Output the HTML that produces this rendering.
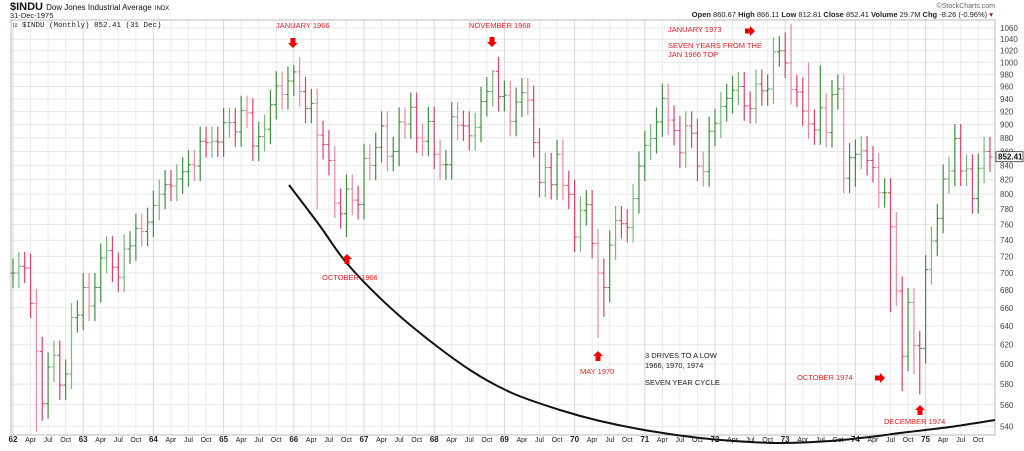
<!DOCTYPE html><html><head><meta charset="utf-8"><style>
body{margin:0;background:#fff;width:1024px;height:446px;overflow:hidden;font-family:"Liberation Sans",sans-serif}
</style></head><body>
<svg id="s" width="1024" height="446" xmlns="http://www.w3.org/2000/svg" font-family="Liberation Sans, sans-serif"></svg>
<script>
var C=[700,708,706,665,613,561,597,609,579,590,649,652,
683,662,683,718,727,707,695,729,733,755,751,763,
785,800,813,811,821,831,841,839,875,873,875,874,
903,903,889,922,918,868,882,893,931,961,947,969,
984,952,925,933,884,870,847,788,774,807,792,786,
850,840,866,898,853,860,904,901,927,880,875,905,
856,841,841,912,899,898,883,896,936,952,985,944,
946,905,935,950,938,873,816,837,813,856,812,800,
744,778,786,736,700,683,734,765,761,756,794,839,
869,879,904,941,907,891,858,898,887,839,831,890,
902,928,941,954,960,929,925,964,953,956,1018,1020,
999,955,951,921,901,892,926,888,947,956,822,851,
856,861,847,837,802,802,757,679,608,666,619,616,
704,739,768,821,832,879,832,835,794,836,860,852];
var LO={4:535,5:545,52:780,57:744,100:627,101:650,152:573,154:590,155:570,144:810,150:655},HI={48:995,82:987,133:1067,132:1052,136:1000,138:995};
function Y(v){return 28+590.5*Math.log(1060/v);}
function X(i){return 13+5.85*i;}
var h='';
for(var v=540;v<=1060;v+=20){var y=Y(v);h+='<line x1="11" x2="995" y1="'+y+'" y2="'+y+'" stroke="#e8e8e8"/>';h+='<text x="1000" y="'+(y+3)+'" font-size="8" fill="#444">'+v+'</text>';}
var ml=['Apr','Jul','Oct'];
for(var yr=0;yr<14;yr++){for(var q=0;q<4;q++){var x=X(yr*12+q*3);h+='<line x1="'+x+'" x2="'+x+'" y1="20" y2="435" stroke="'+(q?'#ececec':'#d8d8d8')+'"/>';
var t=q?ml[q-1]:(''+(62+yr));h+='<text x="'+x+'" y="442" font-size="'+(q?7:8)+'" text-anchor="middle" fill="#222" font-weight="'+(q?'normal':'bold')+'">'+t+'</text>';}}
h+='<rect x="11" y="20" width="984" height="415" fill="none" stroke="#bbb"/>';
var prev=C[0];
for(var i=0;i<C.length;i++){var o=prev,c=C[i];var hi=HI[i]||Math.max(o,c)*1.025,lo=LO[i]||Math.min(o,c)*0.975;
var col=c>=o?'#3f8f3f':'#e0406a';if(i%3==1)col=c>=o?'#7cb87c':'#ee8aa4';var x=X(i);
h+='<line x1="'+x+'" x2="'+x+'" y1="'+Y(hi)+'" y2="'+Y(lo)+'" stroke="'+col+'" stroke-width="1.2"/>';
h+='<line x1="'+(x-2.5)+'" x2="'+x+'" y1="'+Y(o)+'" y2="'+Y(o)+'" stroke="'+col+'"/>';
h+='<line x1="'+x+'" x2="'+(x+2.5)+'" y1="'+Y(c)+'" y2="'+Y(c)+'" stroke="'+col+'"/>';prev=c;}
// smooth curve (Catmull-Rom)
var P=[[289,185],[320,226],[345,261],[380,298],[420,333],[470,370],[512,393],[560,410],[600,421],[650,431],[700,438],[750,442],[785,443],[830,441],[870,437],[900,433],[950,427],[995,420]];
var d='M'+P[0][0]+','+P[0][1];
for(var k=0;k<P.length-1;k++){var p0=P[k-1]||P[k],p1=P[k],p2=P[k+1],p3=P[k+2]||p2;
d+=' C'+(p1[0]+(p2[0]-p0[0])/6)+','+(p1[1]+(p2[1]-p0[1])/6)+' '+(p2[0]-(p3[0]-p1[0])/6)+','+(p2[1]-(p3[1]-p1[1])/6)+' '+p2[0]+','+p2[1];}
h+='<path d="'+d+'" fill="none" stroke="#111" stroke-width="2"/>';
function dn(x,y){return '<polygon fill="#e00" points="'+(x-2.5)+','+y+' '+(x+2.5)+','+y+' '+(x+2.5)+','+(y+5)+' '+(x+5)+','+(y+5)+' '+x+','+(y+10)+' '+(x-5)+','+(y+5)+' '+(x-2.5)+','+(y+5)+'"/>';}
function up(x,y){return '<polygon fill="#e00" points="'+(x-2.5)+','+(y+10)+' '+(x+2.5)+','+(y+10)+' '+(x+2.5)+','+(y+5)+' '+(x+5)+','+(y+5)+' '+x+','+y+' '+(x-5)+','+(y+5)+' '+(x-2.5)+','+(y+5)+'"/>';}
function rt(x,y){return '<polygon fill="#e00" points="'+x+','+(y-2.5)+' '+(x+5)+','+(y-2.5)+' '+(x+5)+','+(y-5)+' '+(x+10)+','+y+' '+(x+5)+','+(y+5)+' '+(x+5)+','+(y+2.5)+' '+x+','+(y+2.5)+'"/>';}
h+=dn(293,38)+dn(492,37)+rt(745,31)+up(347,254)+up(598,351)+rt(875,378)+up(920,405);
function tx(x,y,s,c){return '<text x="'+x+'" y="'+y+'" font-size="7.5" fill="'+(c||'#e82020')+'">'+s+'</text>';}
h+=tx(276,28,'JANUARY 1966')+tx(469,28,'NOVEMBER 1968')+tx(668,32,'JANUARY 1973')+tx(668,48,'SEVEN YEARS FROM THE')+tx(668,57,'JAN 1966 TOP')+tx(322,280,'OCTOBER 1966')+tx(580,374,'MAY 1970')+tx(797,380,'OCTOBER 1974')+tx(884,424,'DECEMBER 1974');
h+=tx(645,358,'3 DRIVES TO A LOW','#222')+tx(645,368,'1966, 1970, 1974','#222')+tx(645,385,'SEVEN YEAR CYCLE','#222');
h+='<text x="10" y="10" font-size="11" font-weight="bold" fill="#111">$INDU <tspan font-size="8" font-weight="normal">Dow Jones Industrial Average</tspan> <tspan font-size="6" font-weight="normal">INDX</tspan></text>';
h+='<text x="10" y="18" font-size="7.5" fill="#222">31-Dec-1975</text>';
h+='<text x="13" y="27" font-size="7.5" fill="#222" font-family="Liberation Mono, monospace"><tspan fill="#3f8f3f">\u026f</tspan> $INDU (Monthly) 852.41 (31 Dec)</text>';
h+='<text x="995" y="8" font-size="7" fill="#666" text-anchor="end">\u00a9StockCharts.com</text>';
h+='<text x="993" y="17" font-size="7.5" fill="#222" text-anchor="end"><tspan font-weight="bold">Open</tspan> 860.67 <tspan font-weight="bold">High</tspan> 866.11 <tspan font-weight="bold">Low</tspan> 812.81 <tspan font-weight="bold">Close</tspan> 852.41 <tspan font-weight="bold">Volume</tspan> 29.7M <tspan font-weight="bold">Chg</tspan> -8.26 (-0.96%) <tspan fill="#c03">\u25be</tspan></text>';
var yl=Y(852.41);h+='<rect x="996" y="'+(yl-5)+'" width="27" height="10" fill="#fff" stroke="#333" stroke-width="0.8"/><text x="998" y="'+(yl+3)+'" font-size="8" font-weight="bold" fill="#111">852.41</text>';
document.getElementById('s').innerHTML=h;
</script></body></html>
